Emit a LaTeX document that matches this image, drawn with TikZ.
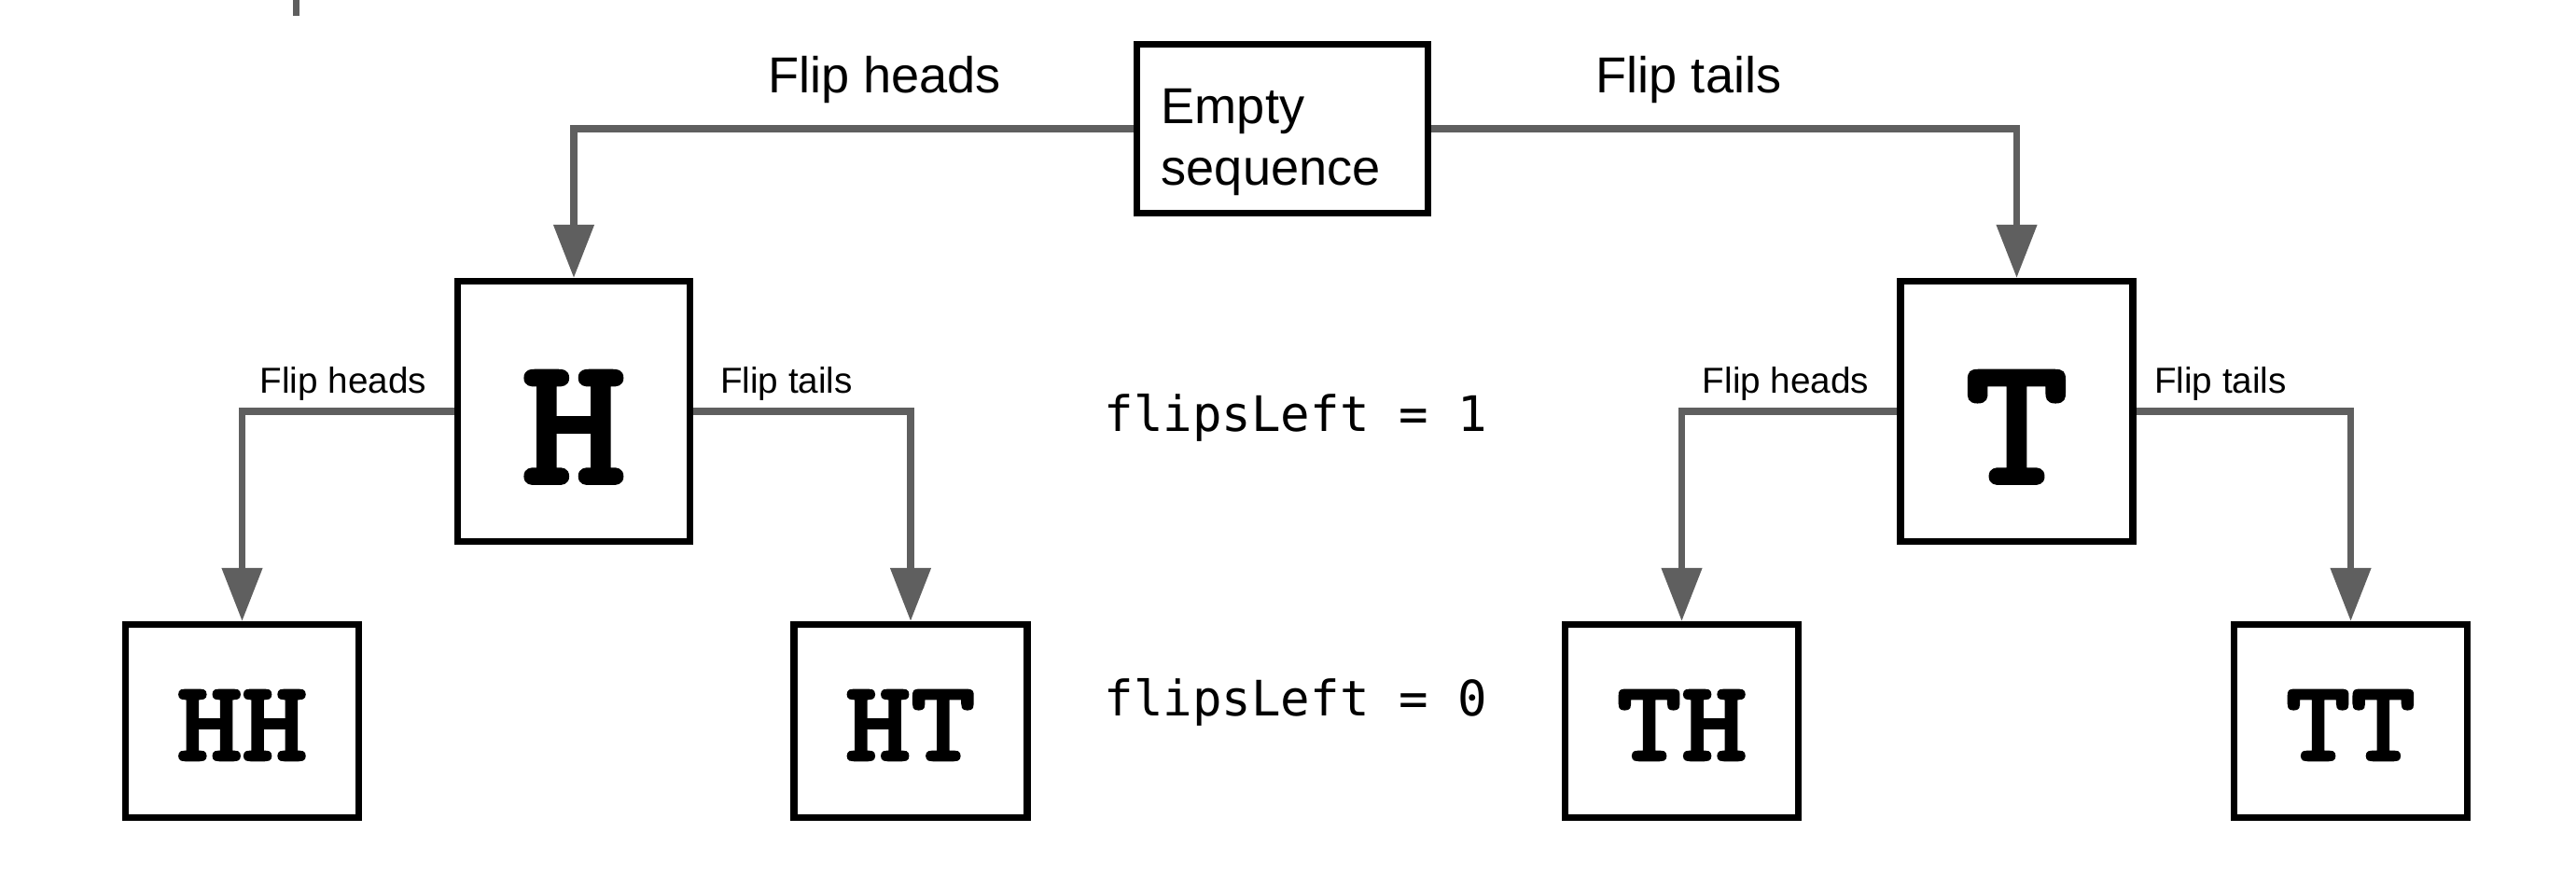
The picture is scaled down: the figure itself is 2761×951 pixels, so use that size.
\documentclass[tikz,border=0pt]{standalone}
\usepackage{fontspec}
\setmainfont{Liberation Sans}
\newfontfamily\codefont{DejaVu Sans Mono}
\newfontfamily\slabfont{lmmonolt10-bold}[Extension=.otf, FakeBold=2, FakeStretch=1.08]
\usetikzlibrary{arrows.meta}
\definecolor{conngray}{RGB}{95,95,95}
\begin{document}
\begin{tikzpicture}[x=0.01cm,y=-0.01cm,
  boxnode/.style={draw=black, line width=0.075cm, inner sep=0pt, fill=white},
  rootbox/.style={boxnode, minimum width=3.115cm, minimum height=1.805cm},
  midbox/.style={boxnode, minimum width=2.49cm, minimum height=2.785cm},
  leafbox/.style={boxnode, minimum width=2.495cm, minimum height=2.065cm},
  conn/.style={draw=conngray, line width=0.075cm, -{Triangle[width=0.42cm,length=0.57cm]}},
  biglabel/.style={inner sep=0pt, anchor=base, font=\fontsize{15.4pt}{18.8pt}\selectfont},
  smalllabel/.style={inner sep=0pt, anchor=base, font=\fontsize{11pt}{13pt}\selectfont},
  codetext/.style={inner sep=0pt, anchor=base west, font=\codefont\fontsize{14.9pt}{18pt}\selectfont},
  bigletter/.style={inner sep=0pt, anchor=base, font=\slabfont\fontsize{56pt}{62pt}\selectfont},
  leafletter/.style={inner sep=0pt, anchor=base, font=\slabfont\fontsize{35pt}{40pt}\selectfont}
]
\useasboundingbox (0,0) rectangle (2761,951);
\fill[white] (0,0) rectangle (2761,951);

% stray mark at top
\draw[conngray, line width=0.07cm] (317,0) -- (317,17);

% boxes
\node[rootbox] (root) at (1374.5,138) {};
\node[midbox] (H) at (615,441) {};
\node[midbox] (T) at (2161.5,441) {};
\node[leafbox] (HH) at (259.5,773) {};
\node[leafbox] (HT) at (976,773) {};
\node[leafbox] (TH) at (1802.5,773) {};
\node[leafbox] (TT) at (2519.5,773) {};

% box texts
\node[biglabel, anchor=base west] (roottext) at (1244,132)
  {\begin{tabular}[t]{@{}l@{}}Empty\\sequence\end{tabular}};
\node[bigletter] (Htext) at (615,518) {H};
\node[bigletter] (Ttext) at (2161.5,518) {T};
\node[leafletter] (HHtext) at (259.5,815) {HH};
\node[leafletter] (HTtext) at (976,815) {HT};
\node[leafletter] (THtext) at (1802.5,815) {TH};
\node[leafletter] (TTtext) at (2519.5,815) {TT};

% connectors
\draw[conn] (root.west) -| (H.north);
\draw[conn] (root.east) -| (T.north);
\draw[conn] (H.west) -| (HH.north);
\draw[conn] (H.east) -| (HT.north);
\draw[conn] (T.west) -| (TH.north);
\draw[conn] (T.east) -| (TT.north);

% edge labels
\node[biglabel] (lh0) at (948,99) {Flip heads};
\node[biglabel] (lt0) at (1810,99) {Flip tails};
\node[smalllabel] (lh1) at (368,421) {Flip heads};
\node[smalllabel] (lt1) at (843,421) {Flip tails};
\node[smalllabel] (lh2) at (1914,421) {Flip heads};
\node[smalllabel] (lt2) at (2380,421) {Flip tails};

% level annotations
\node[codetext] (fl1) at (1183,462) {flipsLeft = 1};
\node[codetext] (fl0) at (1183,767) {flipsLeft = 0};
\end{tikzpicture}
\end{document}
